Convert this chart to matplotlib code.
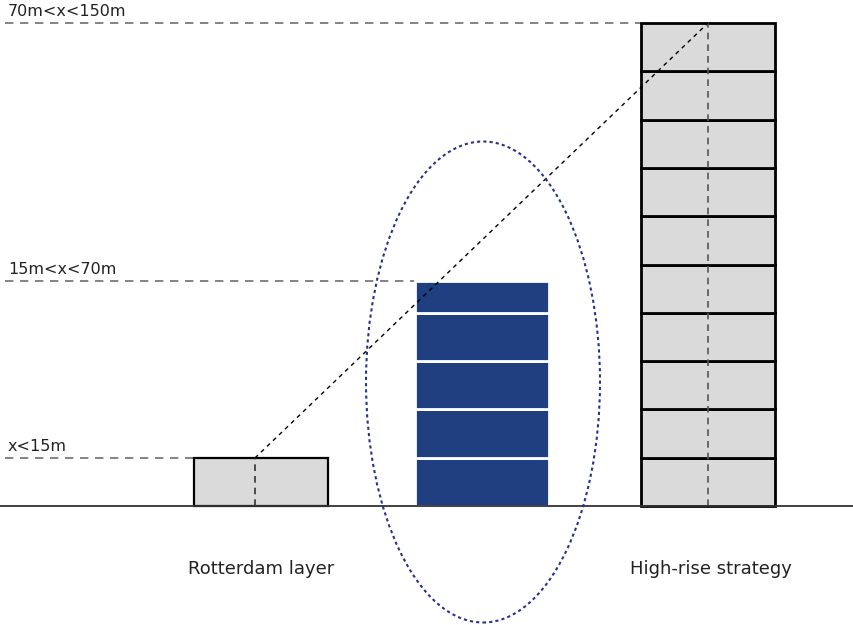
import numpy as np
import matplotlib.pyplot as plt
from matplotlib.patches import Rectangle, Ellipse

# building blocks: left edge, width, floor heights (bottom -> top)
names = ["Rotterdam layer", "mid", "High-rise strategy"]
x_left = [194, 415, 641]
widths = [134, 134, 134]
floors_low = [48]
floors_mid = [48, 49, 48, 48, 32]
floors_tall = [48.3] * 10

level_labels = ["x<15m", "15m<x<70m", "70m<x<150m"]
level_heights = [48, 225, 483]
level_ends = [194, 415, 641]

fig = plt.figure(figsize=(8.54, 6.25), dpi=100)
ax = fig.add_axes([0, 0, 1, 1])
ax.set_xlim(0, 854)
ax.set_ylim(-119, 506)
ax.axis("off")

navy = "#1f3f80"
grey_fill = "#d9dad9"

# ground
ax.plot([0, 854], [0, 0], color="#333333", lw=1.3, zorder=5)

# level lines and labels
for lab, h, xe in zip(level_labels, level_heights, level_ends):
    ax.plot([5, xe], [h, h], color="#6e6e6e", lw=1.2, ls=(0, (5, 4)), zorder=2)
    ax.text(8, h + 4, lab, fontsize=11.5, color="#222222", va="bottom", ha="left")

# grey buildings
centers = [0.455, None, 0.5]
for i, fl in enumerate([floors_low, None, floors_tall]):
    if fl is None:
        continue
    bottoms = np.concatenate([[0], np.cumsum(fl)[:-1]])
    for b, hgt in zip(bottoms, fl):
        ax.add_patch(Rectangle((x_left[i], b), widths[i], hgt, facecolor=grey_fill,
                               edgecolor="black", lw=2 if i == 2 else 1.6, zorder=3))
    xc = x_left[i] + widths[i] * centers[i]
    ax.plot([xc, xc], [0, sum(fl)], color="#333333" if i == 0 else "#555555",
            lw=1.2, ls=(0, (4, 3)), zorder=4)

# middle building (navy)
bottoms = np.concatenate([[0], np.cumsum(floors_mid)[:-1]])
for b, hgt in zip(bottoms, floors_mid):
    ax.add_patch(Rectangle((x_left[1], b), widths[1], hgt, facecolor=navy,
                           edgecolor="white", lw=2, zorder=3))

# diagonal connection
x0 = x_left[0] + widths[0] * centers[0]
x1 = x_left[2] + widths[2] * centers[2]
ax.plot([x0, x1], [sum(floors_low), sum(floors_tall)], color="black", lw=1,
        ls=(0, (3, 3)), zorder=6)

# ellipse
ax.add_patch(Ellipse((483, 506 - 382), 234, 481, fill=False, edgecolor="#2b2f8f",
                     lw=1.5, ls=(0, (1.5, 1.5)), zorder=7))

ax.text(261, -63, names[0], fontsize=13, ha="center", va="center", color="#222222")
ax.text(711, -63, names[2], fontsize=13, ha="center", va="center", color="#222222")

fig.savefig("out.png", dpi=100)
